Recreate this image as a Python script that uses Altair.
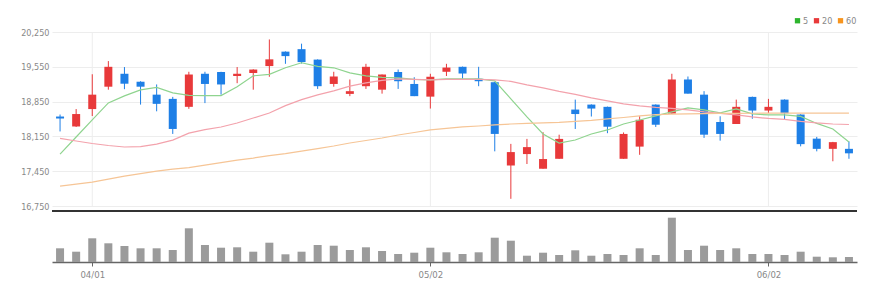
import altair as alt
import pandas as pd

# ---- data ----
opens = [18550, 18350, 18700, 19150, 19410, 19250, 18990, 18905, 18745, 19410,
         19445, 19365, 19425, 19565, 19855, 19905, 19695, 19205, 19005, 19160,
         19090, 19445, 19205, 18950, 19450, 19550, 19310, 19240, 17565, 17795,
         17500, 17700, 18690, 18790, 18745, 17700, 17945, 18790, 18610, 19295,
         18990, 18440, 18400, 18945, 18670, 18890, 18590, 18105, 17900, 17900]
highs = [18590, 18700, 19400, 19665, 19545, 19260, 19195, 18945, 19450, 19450,
         19450, 19545, 19500, 20100, 19860, 20015, 19700, 19450, 19295, 19610,
         19395, 19495, 19340, 19410, 19610, 19555, 19550, 19250, 18000, 18100,
         18235, 18185, 18890, 18795, 18750, 18230, 18555, 18795, 19410, 19355,
         19060, 18555, 18890, 18950, 18905, 18895, 18595, 18140, 18040, 18050]
lows = [18250, 18340, 18560, 19090, 19100, 18790, 18655, 18200, 18705, 18820,
        18990, 19220, 19090, 19350, 19610, 19615, 19105, 19150, 18960, 19105,
        19010, 19105, 18960, 18710, 19365, 19310, 19160, 17850, 16895, 17595,
        17500, 17700, 18300, 18550, 18215, 17700, 17780, 18340, 18605, 19010,
        18120, 18065, 18400, 18505, 18620, 18500, 17950, 17850, 17650, 17700]
closes = [18510, 18600, 18990, 19550, 19210, 19150, 18805, 18300, 19395, 19205,
          19195, 19410, 19495, 19700, 19765, 19645, 19160, 19355, 19060, 19550,
          19395, 19260, 18960, 19350, 19535, 19415, 19260, 18200, 17835, 17935,
          17695, 18100, 18600, 18710, 18345, 18200, 18485, 18385, 19295, 19010,
          18185, 18200, 18745, 18670, 18745, 18615, 17995, 17900, 18035, 17810]
ma5 = [17795, 18138, 18481, 18824, 18965, 19086, 19137, 19026, 18975, 18971,
       18971, 19147, 19369, 19399, 19530, 19631, 19560, 19530, 19429, 19369,
       19338, 19328, 19298, 19288, 19308, 19308, 19308, 19268, 18905, 18542,
       18199, 18017, 18078, 18199, 18280, 18400, 18481, 18562, 18643, 18723,
       18683, 18622, 18703, 18602, 18582, 18582, 18552, 18411, 18300, 18038]
ma20 = [18112, 18058, 18007, 17967, 17937, 17945, 17995, 18075, 18215, 18285,
        18340, 18420, 18520, 18620, 18770, 18890, 18985, 19066, 19161, 19227,
        19278, 19308, 19298, 19288, 19298, 19298, 19298, 19288, 19258, 19187,
        19127, 19056, 18996, 18925, 18864, 18804, 18764, 18733, 18713, 18683,
        18643, 18612, 18582, 18542, 18511, 18491, 18451, 18421, 18400, 18390]
ma60 = [17150, 17190, 17231, 17291, 17352, 17402, 17452, 17493, 17523, 17573,
        17624, 17674, 17715, 17765, 17805, 17856, 17906, 17957, 18017, 18068,
        18118, 18179, 18229, 18280, 18310, 18340, 18360, 18381, 18400, 18411,
        18421, 18431, 18451, 18471, 18501, 18531, 18562, 18590, 18600, 18605,
        18610, 18612, 18614, 18616, 18618, 18620, 18620, 18620, 18620, 18620]
volumes = [137000, 103000, 237000, 187000, 160000, 137000, 137000, 120000, 337000, 170000,
           143000, 147000, 103000, 193000, 77000, 103000, 170000, 163000, 120000, 147000,
           110000, 80000, 93000, 143000, 97000, 80000, 97000, 243000, 213000, 63000,
           93000, 70000, 117000, 63000, 80000, 70000, 137000, 70000, 443000, 120000,
           163000, 120000, 137000, 80000, 80000, 70000, 103000, 53000, 47000, 50000]
tick_idx = [2, 23, 44]
tick_labels = ["04/01", "05/02", "06/02"]
y_ticks = [16750, 17450, 18150, 18850, 19550, 20250]
price_domain = [16650, 20250]
vol_domain = [0, 510000]
ma_keys = ["ma5", "ma20", "ma60"]
ma_names = ["5", "20", "60"]

# ---- styles ----
UP, DOWN = "#E8393A", "#1E7FE6"
line_colors = ["#8FD48F", "#F3A2AC", "#F6C596"]
legend_colors = ["#2DB52D", "#E8393A", "#F7941D"]
FONT = "'DejaVu Sans Condensed', 'Liberation Sans Narrow', 'Roboto Condensed', Roboto, sans-serif"
W, H = 805, 230
P_H = 179

idx = list(range(len(opens)))
df = pd.DataFrame({"i": idx, "open": opens, "high": highs, "low": lows,
                   "close": closes, "vol": volumes,
                   "ma5": ma5, "ma20": ma20, "ma60": ma60})

label_expr = "''"
for v, lab in zip(reversed(tick_idx), reversed(tick_labels)):
    label_expr = f"datum.value == {v} ? '{lab}' : ({label_expr})"

x_scale = alt.Scale(domain=[-0.5, len(idx) - 0.5], nice=False, zero=False, padding=0)
x_axis = alt.Axis(values=tick_idx, labelExpr=label_expr, grid=False,
                  domainColor="#666", domainWidth=1.5, tickColor="#666",
                  tickSize=4, labelColor="#888", labelFontSize=9.5,
                  labelFont=FONT, labelPadding=3, title=None)
X = alt.X("i:Q", scale=x_scale, axis=x_axis)

p_scale = alt.Scale(domain=price_domain, range=[P_H, 0], nice=False, zero=False, padding=0)
p_axis = alt.Axis(values=y_ticks, labelExpr="format(datum.value, ',')", grid=True,
                  gridColor="#EDEDED", domain=False, ticks=False, labelPadding=3,
                  labelColor="#888", labelFontSize=9, labelFont=FONT, title=None)

candle_color = alt.condition("datum.close >= datum.open", alt.value(UP), alt.value(DOWN))

base = alt.Chart(df)

wicks = base.mark_rule(strokeWidth=1).encode(
    x=X, y=alt.Y("low:Q", scale=p_scale, axis=p_axis), y2="high:Q", color=candle_color)

vgrid = alt.Chart(pd.DataFrame({"i": tick_idx, "top": [y_ticks[-1]] * len(tick_idx),
                                "bot": [y_ticks[0]] * len(tick_idx)})).mark_rule(
    color="#EDEDED").encode(
    x=X, y=alt.Y("top:Q", scale=p_scale, axis=p_axis), y2="bot:Q")

bodies = base.mark_bar(size=8).encode(
    x=X, y=alt.Y("open:Q", scale=p_scale, axis=p_axis), y2="close:Q", color=candle_color)

lines = base.transform_fold(ma_keys, as_=["key", "ma"]).mark_line(strokeWidth=1.2).encode(
    x=X, y=alt.Y("ma:Q", scale=p_scale, axis=p_axis),
    stroke=alt.Stroke("key:N", scale=alt.Scale(domain=ma_keys, range=line_colors), legend=None),
)

baseline = alt.Chart(pd.DataFrame({"a": [-0.5], "b": [len(idx) - 0.5],
                                   "p": [price_domain[0]]})).mark_rule(
    color="#333", strokeWidth=2).encode(
    x=alt.X("a:Q", scale=x_scale, axis=x_axis), x2="b:Q",
    y=alt.Y("p:Q", scale=p_scale, axis=p_axis),
)

price = alt.layer(vgrid, wicks, bodies, lines, baseline)

vol = base.mark_bar(size=8, color="#9B9B9B").encode(
    x=X,
    y=alt.Y("vol:Q", scale=alt.Scale(domain=vol_domain, range=[H, P_H], nice=False, padding=0),
            axis=None),
)

legend_layer = alt.Chart(pd.DataFrame({"name": ma_names})).mark_square(opacity=0, filled=True).encode(
    fill=alt.Fill("name:N", scale=alt.Scale(domain=ma_names, range=legend_colors),
                  legend=alt.Legend(orient="none", legendX=741, legendY=-16,
                                    direction="horizontal", columns=3, title=None,
                                    gridAlign="each",
                                    symbolType="square", symbolSize=28, symbolOpacity=1,
                                    symbolStrokeWidth=0, labelFontSize=9,
                                    labelFont=FONT, labelColor="#888", labelOffset=1,
                                    columnPadding=3, padding=0)),
)

chart = alt.layer(price, vol, legend_layer).resolve_scale(
    y="independent", fill="independent", stroke="independent"
).properties(
    width=W, height=H,
    autosize=alt.AutoSizeParams(type="none"),
    padding={"left": 52, "top": 32, "right": 27, "bottom": 32},
).configure(background="white").configure_view(stroke=None)

chart.save("out.html", embed_options={"renderer": "svg", "actions": False})
